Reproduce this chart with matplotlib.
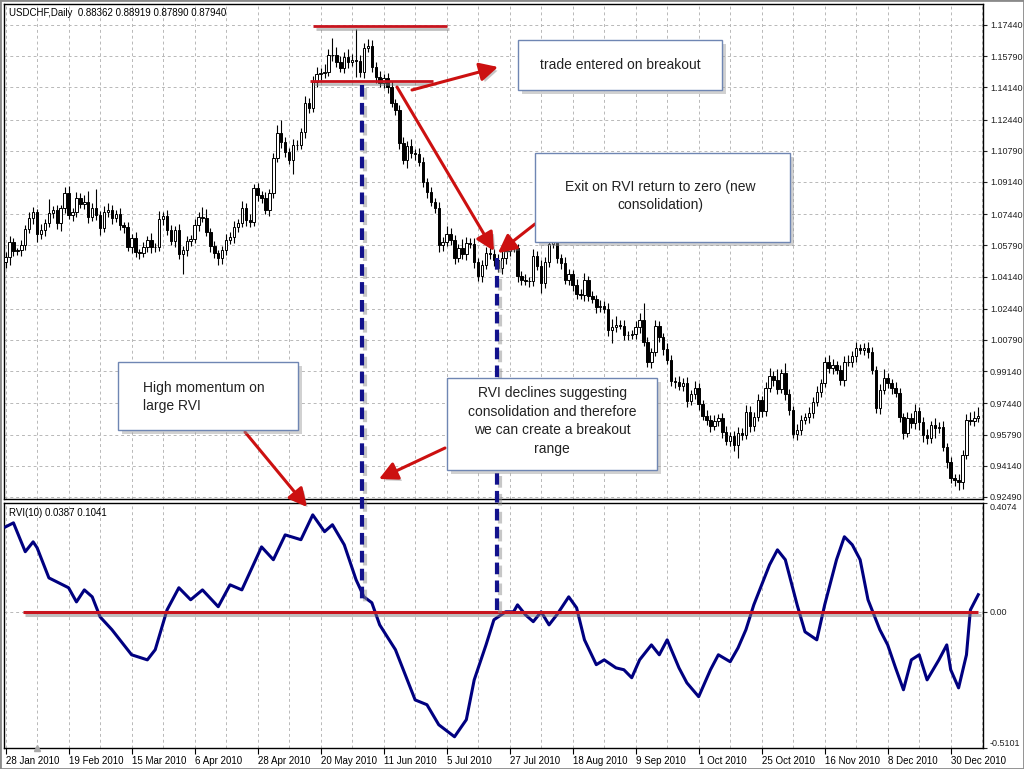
import numpy as np
import matplotlib.pyplot as plt
import matplotlib.patheffects as pe
from matplotlib.patches import Rectangle, FancyArrowPatch
from matplotlib.lines import Line2D

plt.rcParams['font.family'] = ['Liberation Sans', 'DejaVu Sans']

# USDCHF daily closes, 28 Jan 2010 -> early Jan 2011
closes = [
    1.0518, 1.0597, 1.0549, 1.0552, 1.0581, 1.0666, 1.0724, 1.0756, 1.0639, 1.0660, 1.0697, 1.0750, 1.0766, 1.0697, 1.0777, 1.0856,
    1.0740, 1.0756, 1.0830, 1.0798, 1.0808, 1.0729, 1.0777, 1.0740, 1.0671, 1.0756, 1.0766, 1.0724, 1.0745, 1.0687, 1.0676, 1.0571,
    1.0618, 1.0544, 1.0539, 1.0571, 1.0608, 1.0571, 1.0568, 1.0719, 1.0734, 1.0660, 1.0602, 1.0660, 1.0534, 1.0555, 1.0602, 1.0613,
    1.0687, 1.0729, 1.0726, 1.0650, 1.0576, 1.0539, 1.0513, 1.0555, 1.0608, 1.0623, 1.0676, 1.0697, 1.0777, 1.0713, 1.0703, 1.0882,
    1.0845, 1.0830, 1.0766, 1.0856, 1.1041, 1.1173, 1.1126, 1.1073, 1.1030, 1.1110, 1.1107, 1.1179, 1.1332, 1.1305, 1.1443, 1.1485,
    1.1490, 1.1496, 1.1586, 1.1583, 1.1548, 1.1517, 1.1575, 1.1548, 1.1559, 1.1554, 1.1496, 1.1622, 1.1633, 1.1522, 1.1469, 1.1438,
    1.1464, 1.1416, 1.1332, 1.1295, 1.1120, 1.1030, 1.1104, 1.1067, 1.1062, 1.1020, 1.0914, 1.0861, 1.0808, 1.0777, 1.0581, 1.0597,
    1.0639, 1.0608, 1.0513, 1.0565, 1.0534, 1.0592, 1.0587, 1.0492, 1.0417, 1.0476, 1.0539, 1.0534, 1.0502, 1.0460, 1.0513, 1.0549,
    1.0576, 1.0565, 1.0417, 1.0396, 1.0391, 1.0388, 1.0523, 1.0470, 1.0380, 1.0492, 1.0587, 1.0608, 1.0513, 1.0486, 1.0396, 1.0428,
    1.0370, 1.0322, 1.0317, 1.0396, 1.0312, 1.0296, 1.0254, 1.0259, 1.0243, 1.0132, 1.0148, 1.0158, 1.0155, 1.0106, 1.0104, 1.0108,
    1.0148, 1.0185, 1.0068, 0.9962, 1.0015, 1.0153, 1.0095, 1.0031, 0.9973, 0.9862, 0.9857, 0.9835, 0.9851, 0.9756, 0.9793, 0.9825,
    0.9740, 0.9677, 0.9656, 0.9624, 0.9650, 0.9666, 0.9592, 0.9545, 0.9571, 0.9524, 0.9587, 0.9576, 0.9698, 0.9624, 0.9671, 0.9762,
    0.9703, 0.9825, 0.9888, 0.9867, 0.9820, 0.9904, 0.9793, 0.9708, 0.9582, 0.9603, 0.9656, 0.9671, 0.9693, 0.9751, 0.9804, 0.9851,
    0.9962, 0.9930, 0.9946, 0.9920, 0.9867, 0.9962, 0.9960, 0.9994, 1.0037, 1.0026, 1.0037, 1.0015, 0.9920, 0.9719, 0.9815, 0.9878,
    0.9851, 0.9825, 0.9799, 0.9671, 0.9587, 0.9666, 0.9640, 0.9703, 0.9645, 0.9576, 0.9561, 0.9629, 0.9613, 0.9619, 0.9513, 0.9434,
    0.9349, 0.9338, 0.9328, 0.9471, 0.9656, 0.9653, 0.9666, 0.9677,
]
first_open = 1.0490
# wick lengths in pips above / below the body
wick_up = [
    25, 30, 20, 15, 25, 20, 30, 25, 15, 30, 20, 74, 20, 25, 15, 30,
    37, 20, 30, 25, 35, 60, 25, 100, 20, 30, 35, 25, 20, 30, 15, 25,
    20, 30, 15, 25, 20, 35, 20, 40, 20, 30, 25, 20, 30, 20, 25, 20,
    30, 25, 53, 45, 20, 25, 15, 20, 30, 25, 30, 20, 35, 25, 30, 20,
    25, 20, 30, 20, 25, 40, 70, 25, 20, 30, 25, 20, 35, 25, 30, 35,
    25, 40, 30, 90, 45, 30, 25, 40, 30, 164, 30, 25, 37, 30, 25, 30,
    20, 25, 30, 20, 25, 30, 25, 35, 20, 30, 25, 20, 25, 20, 30, 25,
    40, 30, 25, 20, 45, 30, 25, 30, 20, 25, 30, 35, 25, 30, 40, 42,
    30, 25, 20, 25, 30, 20, 35, 25, 30, 25, 40, 80, 25, 20, 30, 25,
    20, 30, 25, 35, 20, 25, 20, 30, 25, 30, 40, 45, 25, 30, 20, 25,
    30, 35, 90, 25, 20, 30, 25, 20, 30, 25, 20, 30, 25, 30, 20, 35,
    25, 20, 30, 25, 30, 20, 25, 30, 20, 25, 30, 25, 35, 30, 25, 30,
    20, 30, 40, 25, 60, 20, 53, 25, 20, 30, 25, 20, 30, 25, 30, 20,
    25, 35, 30, 20, 25, 30, 35, 25, 30, 20, 25, 30, 25, 20, 30, 45,
    25, 20, 30, 25, 20, 30, 25, 35, 20, 25, 30, 20, 35, 25, 30, 20,
    25, 20, 30, 25, 30, 40, 35, 45,
]
wick_dn = [
    30, 45, 25, 20, 30, 25, 20, 30, 40, 25, 30, 20, 25, 30, 40, 25,
    20, 30, 25, 20, 25, 30, 20, 25, 35, 20, 25, 30, 20, 25, 30, 20,
    35, 25, 30, 20, 25, 30, 25, 20, 30, 25, 20, 30, 25, 106, 30, 25,
    20, 30, 25, 20, 30, 25, 40, 30, 25, 20, 30, 25, 20, 30, 25, 20,
    30, 25, 20, 30, 25, 20, 30, 25, 20, 74, 25, 20, 30, 25, 20, 25,
    30, 25, 20, 30, 25, 20, 25, 30, 20, 85, 25, 30, 20, 25, 30, 20,
    25, 30, 20, 25, 30, 20, 40, 25, 30, 20, 25, 30, 20, 25, 35, 30,
    20, 25, 30, 20, 25, 30, 20, 35, 25, 30, 20, 25, 30, 20, 35, 30,
    25, 20, 30, 25, 20, 30, 25, 20, 55, 25, 30, 20, 25, 30, 20, 25,
    30, 25, 20, 30, 25, 20, 30, 25, 20, 30, 70, 25, 20, 30, 25, 20,
    25, 30, 20, 25, 30, 20, 25, 30, 20, 25, 30, 20, 25, 30, 20, 25,
    30, 20, 25, 30, 20, 25, 30, 20, 25, 30, 70, 25, 20, 30, 25, 20,
    30, 25, 20, 30, 25, 20, 30, 25, 20, 30, 25, 20, 30, 25, 20, 25,
    20, 25, 30, 20, 25, 30, 20, 25, 30, 20, 25, 30, 20, 25, 30, 20,
    25, 30, 20, 25, 30, 20, 25, 30, 40, 35, 30, 25, 50, 25, 20, 30,
    25, 30, 45, 35, 20, 25, 30, 20,
]

date_labels = ['28 Jan 2010', '19 Feb 2010', '15 Mar 2010', '6 Apr 2010', '28 Apr 2010',
               '20 May 2010', '11 Jun 2010', '5 Jul 2010', '27 Jul 2010', '18 Aug 2010',
               '9 Sep 2010', '1 Oct 2010', '25 Oct 2010', '16 Nov 2010', '8 Dec 2010', '30 Dec 2010']
price_ticks = [1.17440, 1.15790, 1.14140, 1.12440, 1.10790, 1.09140, 1.07440, 1.05790,
               1.04140, 1.02440, 1.00790, 0.99140, 0.97440, 0.95790, 0.94140, 0.92490]

# RVI(10) main line, sampled at bar numbers
rvi_bar = [0, 2, 5, 7, 8, 11, 16, 18, 20, 22, 24, 27, 32, 36, 38, 41, 44, 47, 50, 54,
           57, 60, 65, 68, 71, 75, 78, 81, 83, 86, 89, 91, 93, 95, 99, 102, 104, 107, 110, 114,
           117, 119, 122, 124, 127, 129, 130, 132, 134, 136, 138, 140, 143, 145, 147, 150, 152, 155, 157, 159,
           161, 164, 166, 168, 171, 173, 176, 179, 181, 184, 186, 188, 190, 192, 194, 196, 198, 201, 203, 206,
           208, 211, 213, 215, 217, 219, 222, 224, 226, 228, 230, 232, 234, 237, 239, 240, 242, 244, 245, 247]
rvi_val = [0.318, 0.333, 0.225, 0.262, 0.240, 0.127, 0.090, 0.037, 0.082, 0.056,
           -0.019, -0.067, -0.161, -0.180, -0.142, 0.007, 0.090, 0.045, 0.082, 0.019,
           0.101, 0.082, 0.243, 0.195, 0.288, 0.270, 0.363, 0.300, 0.326, 0.251,
           0.120, 0.056, 0.034, -0.049, -0.142, -0.255, -0.330, -0.348, -0.423, -0.468,
           -0.404, -0.255, -0.124, -0.030, 0.000, 0.000, 0.026, -0.011, -0.037, 0.000,
           -0.049, -0.011, 0.056, 0.015, -0.105, -0.198, -0.180, -0.210, -0.217, -0.247,
           -0.180, -0.124, -0.161, -0.105, -0.210, -0.266, -0.318, -0.217, -0.161, -0.187,
           -0.135, -0.067, 0.026, 0.101, 0.176, 0.232, 0.195, 0.026, -0.075, -0.105,
           0.026, 0.195, 0.281, 0.251, 0.195, 0.045, -0.067, -0.124, -0.210, -0.292,
           -0.180, -0.161, -0.255, -0.180, -0.124, -0.217, -0.285, -0.161, 0.007, 0.064]
rvi_top, rvi_bottom = 0.4074, -0.5101
range_high, range_low = 1.1739, 1.1449

W, H = 1024, 769
def fx(px):
    return px / W
def fy(py):
    return 1 - py / H

c = np.array(closes)
o = np.concatenate([[first_open], c[:-1]])
hi = np.maximum(o, c) + np.array(wick_up) * 1e-4
lo = np.minimum(o, c) - np.array(wick_dn) * 1e-4
x = np.arange(len(c))
up = c >= o

fig = plt.figure(figsize=(10.24, 7.69), dpi=100)
fig.patch.set_facecolor('white')
ax = fig.add_axes([fx(4), fy(499), fx(979), (499 - 4) / H])
ax2 = fig.add_axes([fx(4), fy(748), fx(979), (748 - 503) / H], sharex=ax)

gridkw = dict(color='#b8b8b8', linestyle=(0, (3, 3)), linewidth=0.7)
for a in (ax, ax2):
    a.set_axisbelow(True)
    for s in a.spines.values():
        s.set_linewidth(1.0)
    a.yaxis.tick_right()
    a.tick_params(axis='y', direction='out', length=3, labelsize=6.5, pad=2, colors='#222222')

# candles
ax.vlines(x, lo, hi, color='black', lw=0.8, zorder=2)
ax.bar(x[up], np.maximum((c - o)[up], 0.00015), bottom=o[up], width=0.62,
       color='white', edgecolor='black', lw=0.7, zorder=3)
ax.bar(x[~up], np.maximum((o - c)[~up], 0.00015), bottom=c[~up], width=0.62,
       color='black', edgecolor='black', lw=0.7, zorder=3)
ax.set_xlim(-0.4, 248.2)
ax.set_ylim(0.9238, 1.1855)
ax.set_yticks(price_ticks, ['%.5f' % p for p in price_ticks])
ax.grid(True, which='both', **gridkw)
ax.tick_params(axis='x', which='both', bottom=False, labelbottom=False)

# consolidation range
shadow = [pe.SimpleLineShadow(offset=(2, -2), shadow_color='#808080', alpha=0.5), pe.Normal()]
ax.hlines(range_high, 78, 112, color='#c8141e', lw=2, zorder=5, path_effects=shadow)
ax.hlines(range_low, 77.4, 108.5, color='#c8141e', lw=2, zorder=5, path_effects=shadow)

# RVI panel
ax2.plot(rvi_bar, rvi_val, color='#000080', lw=2.2, solid_joinstyle='round', zorder=3)
ax2.hlines(0, 4.3, 247, color='#c8141e', lw=2.2, zorder=4, path_effects=shadow)
ax2.set_ylim(rvi_bottom, rvi_top)
ax2.set_yticks([rvi_top, 0, rvi_bottom], ['0.4074', '0.00', '-0.5101'])
lbls = ax2.get_yticklabels()
lbls[0].set_va('top')
lbls[2].set_va('bottom')
ax2.set_xticks(range(0, 241, 16), date_labels)
ax2.set_xticks(range(8, 249, 16), minor=True)
ax2.tick_params(axis='x', which='major', direction='out', length=4, labelsize=7, pad=2)
ax2.tick_params(axis='x', which='minor', length=0)
for t in ax2.get_xticklabels():
    t.set_ha('left')
ax2.grid(True, which='both', axis='x', **gridkw)
ax2.grid(True, axis='y', **gridkw)
ax2.plot(8, rvi_bottom, marker='^', color='#a8a8a8', ms=5, clip_on=False, zorder=5)

fig.text(fx(9), fy(13), 'USDCHF,Daily  0.88362 0.88919 0.87890 0.87940', fontsize=7, va='center')
fig.text(fx(9), fy(513), 'RVI(10) 0.0387 0.1041', fontsize=7, va='center')

# dashed markers across both panels
for (xp, y0, y1) in [(362, 85, 600), (497, 258, 612)]:
    fig.add_artist(Line2D([fx(xp), fx(xp)], [fy(y0), fy(y1)], transform=fig.transFigure,
                          color='#12128c', lw=3, linestyle=(0, (2.8, 1.5)), zorder=3,
                          path_effects=[pe.SimpleLineShadow(offset=(2, -2), shadow_color='#909090', alpha=0.5),
                                        pe.Normal()]))

# arrows
arrow_shadow = [pe.withSimplePatchShadow(offset=(2, -2), shadow_rgbFace='#808080', alpha=0.45)]
for (x0, y0, x1, y1) in [(412, 90, 498, 67), (397, 87, 494, 251), (535, 224, 498, 253),
                         (245, 432, 307, 507), (445, 448, 379, 479)]:
    fig.add_artist(FancyArrowPatch((fx(x0), fy(y0)), (fx(x1), fy(y1)), transform=fig.transFigure,
                                   arrowstyle='-|>,head_length=0.55,head_width=0.28', mutation_scale=20,
                                   color='#cc1010', lw=2.2, shrinkA=0, shrinkB=0, zorder=4,
                                   path_effects=arrow_shadow))

# callout boxes
def callout(x0, y0, x1, y1, text, tx, ty, ha='center'):
    fig.add_artist(Rectangle((fx(x0 + 4), fy(y1 + 4)), (x1 - x0) / W, (y1 - y0) / H,
                             transform=fig.transFigure, fc='#9a9a9a', ec='none', alpha=0.45, zorder=5))
    fig.add_artist(Rectangle((fx(x0), fy(y1)), (x1 - x0) / W, (y1 - y0) / H,
                             transform=fig.transFigure, fc='white', ec='#6f86b3', lw=1, zorder=6))
    fig.text(fx(tx), fy(ty), text, ha=ha, va='center', fontsize=10, color='#222222',
             linespacing=1.45, zorder=7)

callout(518, 40, 722, 90, 'trade entered on breakout', 620, 65)
callout(535, 153, 790, 242, 'Exit on RVI return to zero (new\nconsolidation)', 660, 196)
callout(118, 362, 298, 430, 'High momentum on\nlarge RVI', 143, 397, ha='left')
callout(447, 378, 657, 470, 'RVI declines suggesting\nconsolidation and therefore\nwe can create a breakout\nrange',
        552, 421)

fig.add_artist(Rectangle((0, 0), 1, 1, transform=fig.transFigure, fill=False, ec='#8a8a8a', lw=2))

fig.savefig('out.png', dpi=100)
